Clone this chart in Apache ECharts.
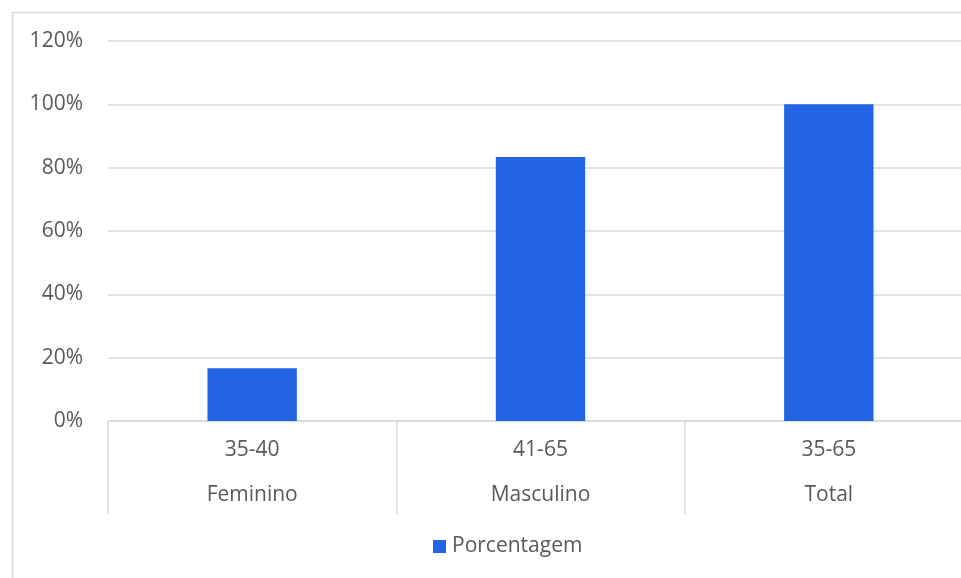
<!DOCTYPE html>
<html>
<head>
<meta charset="utf-8">
<script src="https://cdn.jsdelivr.net/npm/echarts@6/dist/echarts.min.js"></script>
<style>
  html, body { margin: 0; padding: 0; background: #ffffff; }
  #chart { width: 961px; height: 578px; }
</style>
</head>
<body>
<div id="chart"></div>
<script>
// Age ranges (first label row) and groups (second label row)
const ageRanges = ['35-40', '41-65', '35-65'];
const groups = ['Feminino', 'Masculino', 'Total'];
// Share of each group, as fractions of 1
const percentValues = [0.1667, 0.8333, 1.0];
const seriesName = 'Porcentagem';

const textColor = '#595959';
const lineColor = '#d9d9d9';
const font = '"Open Sans", "Noto Sans", sans-serif';
const fontSize = 21;

const chart = echarts.init(document.getElementById('chart'));
chart.setOption({
  animation: false,
  backgroundColor: '#ffffff',
  textStyle: { fontFamily: font },
  graphic: [{
    type: 'rect',
    shape: { x: 12.5, y: 12.5, width: 1000, height: 1000 },
    style: { fill: 'none', stroke: lineColor, lineWidth: 1.5 },
    silent: true
  }],
  // plot area runs slightly past the right edge of the canvas
  grid: {
    left: 108, width: 865, top: 41, bottom: 157,
    containLabel: false,
    outerBoundsMode: 'none'
  },
  legend: {
    data: [seriesName],
    left: 433,
    top: 536,
    padding: 0,
    icon: 'rect',
    itemWidth: 13,
    itemHeight: 13,
    itemGap: 6,
    textStyle: { color: textColor, fontSize: fontSize, fontFamily: font, padding: [0, 0, 0, 1] }
  },
  xAxis: {
    type: 'category',
    data: groups,
    axisLine: { show: true, lineStyle: { color: lineColor, width: 1.5 } },
    axisTick: { show: true, length: 93, lineStyle: { color: lineColor, width: 1.5 } },
    axisLabel: {
      margin: 7,
      interval: 0,
      formatter: (value, idx) => '{a|' + ageRanges[idx] + '}\n{b|' + value + '}',
      rich: {
        a: { color: textColor, fontSize: fontSize, lineHeight: 45, fontFamily: font },
        b: { color: textColor, fontSize: fontSize, lineHeight: 45, fontFamily: font }
      }
    }
  },
  yAxis: {
    type: 'value',
    min: 0,
    max: 1.2,
    interval: 0.2,
    axisLine: { show: false },
    axisTick: { show: false },
    axisLabel: {
      color: textColor,
      fontSize: fontSize,
      margin: 25,
      formatter: v => Math.round(v * 100) + '%'
    },
    splitLine: { lineStyle: { color: lineColor, width: 1.5 } }
  },
  series: [{
    name: seriesName,
    type: 'bar',
    data: percentValues,
    barWidth: '31%',
    itemStyle: { color: '#2264e4' }
  }]
});
</script>
</body>
</html>
